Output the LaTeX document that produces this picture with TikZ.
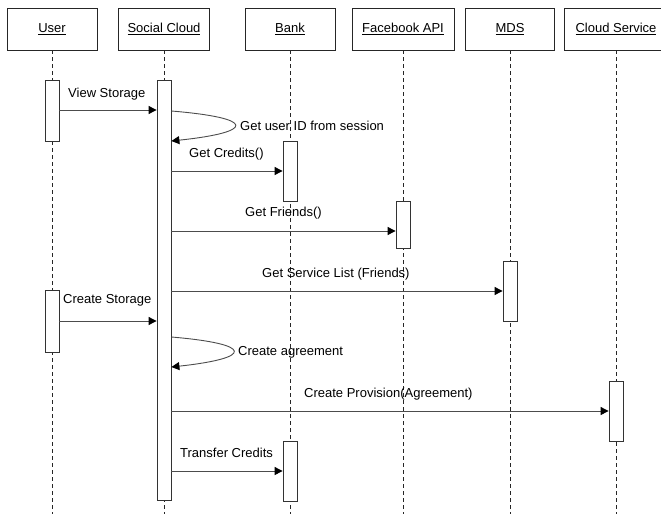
\documentclass[tikz,border=0pt]{standalone}
\usepackage{fontspec}
\setmainfont{Liberation Sans}
\usetikzlibrary{arrows.meta}
\begin{document}
\begin{tikzpicture}[x=1pt,y=-1pt,
  font=\fontsize{13}{15}\selectfont,
  hdr/.style={draw=black!85,line width=0.8pt,fill=white,minimum height=42pt,inner sep=0pt},
  life/.style={draw=black!85,line width=0.8pt,dash pattern=on 4pt off 3pt},
  actbar/.style={draw=black!80,line width=0.8pt,fill=white,minimum width=14pt,inner sep=0pt},
  msg/.style={draw=black!70,line width=0.9pt,-{Triangle[length=8pt,width=8pt,color=black]}},
  lbl/.style={inner sep=0pt,anchor=base west}]
\useasboundingbox (0,0) rectangle (661,514);
% headers
\node[hdr,minimum width=90pt] (hU) at (52,29) {\underline{User}};
\node[hdr,minimum width=91pt] (hS) at (164,29) {\underline{Social Cloud}};
\node[hdr,minimum width=90pt] (hB) at (290,29) {\underline{Bank}};
\node[hdr,minimum width=102pt] (hF) at (403,29) {\underline{Facebook API}};
\node[hdr,minimum width=89pt] (hM) at (510,29) {\underline{MDS}};
\node[hdr,minimum width=104pt] (hC) at (616,29) {\underline{Cloud Service}};
% lifeline ends
\coordinate (eU) at (52,514);
\coordinate (eS) at (164,514);
\coordinate (eB) at (290,514);
\coordinate (eF) at (403,514);
\coordinate (eM) at (510,514);
\coordinate (eC) at (616,514);
\draw[life] (hU.south) -- (eU);
\draw[life] (hS.south) -- (eS);
\draw[life] (hB.south) -- (eB);
\draw[life] (hF.south) -- (eF);
\draw[life] (hM.south) -- (eM);
\draw[life] (hC.south) -- (eC);
% activation bars
\node[actbar,minimum height=61pt] (aU1) at (52,110.5) {};
\node[actbar,minimum height=62pt] (aU2) at (52,321) {};
\node[actbar,minimum height=420pt] (aS) at (164,290) {};
\node[actbar,minimum height=60pt] (aB1) at (290,171) {};
\node[actbar,minimum height=47pt] (aF) at (403,224.5) {};
\node[actbar,minimum height=60pt] (aM) at (510,291) {};
\node[actbar,minimum height=60pt] (aC) at (616,411) {};
\node[actbar,minimum height=60pt] (aB2) at (290,471) {};
% messages
\draw[msg] (aU1.east |- 0,110) -- (aS.west |- 0,110);
\node[lbl] (l1) at (68,97) {View Storage};
\draw[msg] (aS.east |- 0,111) .. controls (256,118) and (256,132) .. (aS.east |- 0,141);
\node[lbl] (l2) at (240,130) {Get user ID from session};
\draw[msg] (aS.east |- 0,171) -- (aB1.west |- 0,171);
\node[lbl] (l3) at (189,157) {Get Credits()};
\draw[msg] (aS.east |- 0,231) -- (aF.west |- 0,231);
\node[lbl] (l4) at (245,216) {Get Friends()};
\draw[msg] (aS.east |- 0,291) -- (aM.west |- 0,291);
\node[lbl] (l5) at (262,277) {Get Service List (Friends)};
\draw[msg] (aU2.east |- 0,321) -- (aS.west |- 0,321);
\node[lbl] (l6) at (63,303) {Create Storage};
\draw[msg] (aS.east |- 0,337) .. controls (254,344) and (254,358) .. (aS.east |- 0,367);
\node[lbl] (l7) at (238,355) {Create agreement};
\draw[msg] (aS.east |- 0,411) -- (aC.west |- 0,411);
\node[lbl] (l8) at (304,397) {Create Provision(Agreement)};
\draw[msg] (aS.east |- 0,471) -- (aB2.west |- 0,471);
\node[lbl] (l9) at (180,457) {Transfer Credits};
\end{tikzpicture}
\end{document}
